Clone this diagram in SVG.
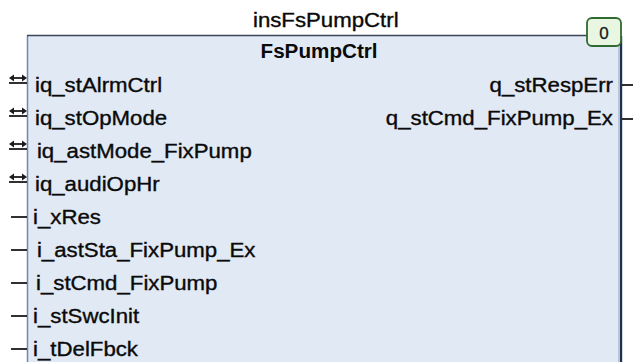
<svg xmlns="http://www.w3.org/2000/svg" width="633" height="362" viewBox="0 0 633 362">
  <style>
    .lbl { font-family: "Liberation Sans", Arial, sans-serif; font-size: 19.5px; fill: #0a0a0a; stroke: #0a0a0a; stroke-width: 0.35; }
    .ttl { font-family: "Liberation Sans", Arial, sans-serif; font-size: 19.5px; font-weight: bold; fill: #0a0a0a; }
    .pin { stroke: #1a1a1a; stroke-width: 1.8; fill: none; }
    .ah { fill: #1a1a1a; }
  </style>
  <rect width="633" height="362" fill="#ffffff"/>

  <!-- function block instance -->
  <g id="fb_FsPumpCtrl">
    <rect x="27.5" y="35.5" width="593" height="340" fill="#e1e9f5" stroke="none"/>
    <line x1="27.5" y1="35.5" x2="27.5" y2="362" stroke="#6c89b6" stroke-width="1.5"/>
    <line x1="27" y1="35.5" x2="621" y2="35.5" stroke="#3a4656" stroke-width="1.5"/>
    <line x1="618.5" y1="36" x2="618.5" y2="362" stroke="#b8c4d4" stroke-width="1"/>
    <line x1="621" y1="36" x2="621" y2="362" stroke="#1d3252" stroke-width="2.4"/>

    <!-- the block font is drawn slightly widened -->
    <g transform="scale(1.14 1)">
      <text class="lbl" x="221.9" y="27">insFsPumpCtrl</text>

      <!-- inputs / in-outs -->
      <text class="lbl" x="30.7" y="92">iq_stAlrmCtrl</text>
      <text class="lbl" x="30.7" y="125">iq_stOpMode</text>
      <text class="lbl" x="32.4" y="158">iq_astMode_FixPump</text>
      <text class="lbl" x="30.7" y="191">iq_audiOpHr</text>
      <text class="lbl" x="29" y="224">i_xRes</text>
      <text class="lbl" x="32.4" y="257">i_astSta_FixPump_Ex</text>
      <text class="lbl" x="31.6" y="290">i_stCmd_FixPump</text>
      <text class="lbl" x="29" y="323">i_stSwcInit</text>
      <text class="lbl" x="29" y="356">i_tDelFbck</text>

      <!-- outputs -->
      <text class="lbl" x="537.7" y="92" text-anchor="end">q_stRespErr</text>
      <text class="lbl" x="537.7" y="125" text-anchor="end">q_stCmd_FixPump_Ex</text>
    </g>
    <g transform="scale(1.06 1)">
      <text class="ttl" x="301" y="58" text-anchor="middle">FsPumpCtrl</text>
    </g>

    <!-- task badge -->
    <rect x="587" y="18" width="34" height="28" rx="5" fill="#e9f6e2" stroke="#2f6a2f" stroke-width="1.8"/>
    <text x="604" y="39" text-anchor="middle" font-family="Liberation Sans, Arial, sans-serif" font-size="17" fill="#1a1a1a" stroke="#1a1a1a" stroke-width="0.3">0</text>
  </g>

  <!-- pin stubs -->
  <g id="connectors">
    <defs>
      <g id="inout">
        <line class="pin" x1="12" y1="-7" x2="24" y2="-7" stroke-width="1.4"/>
        <path class="ah" d="M9,-7 L14,-10.5 L14,-3.5 Z"/>
        <path class="ah" d="M27,-7 L22,-10.5 L22,-3.5 Z"/>
        <line class="pin" x1="9" y1="-2" x2="27" y2="-2"/>
      </g>
    </defs>
    <use href="#inout" x="0" y="85"/>
    <use href="#inout" x="0" y="118"/>
    <use href="#inout" x="0" y="151"/>
    <use href="#inout" x="0" y="184"/>
    <line class="pin" x1="11" y1="217" x2="27" y2="217"/>
    <line class="pin" x1="11" y1="250" x2="27" y2="250"/>
    <line class="pin" x1="11" y1="283" x2="27" y2="283"/>
    <line class="pin" x1="11" y1="316" x2="27" y2="316"/>
    <line class="pin" x1="11" y1="349" x2="27" y2="349"/>
    <line class="pin" x1="622" y1="85" x2="633" y2="85"/>
    <line class="pin" x1="622" y1="119" x2="633" y2="119"/>
  </g>
</svg>
